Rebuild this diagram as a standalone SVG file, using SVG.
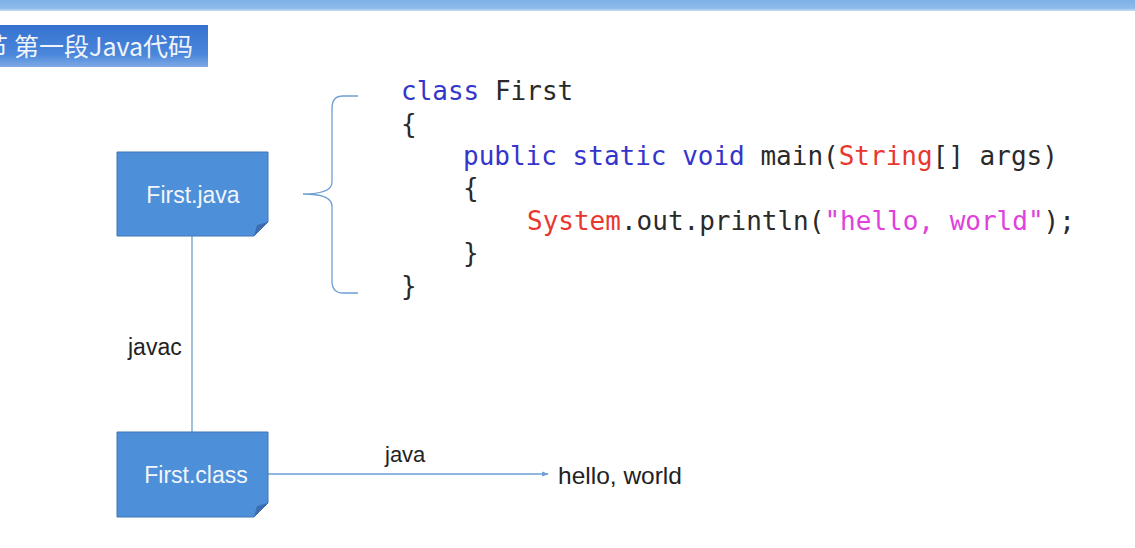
<svg xmlns="http://www.w3.org/2000/svg" width="1135" height="548" viewBox="0 0 1135 548">
<defs>
<linearGradient id="topbar" x1="0" y1="0" x2="0" y2="1">
<stop offset="0" stop-color="#7eb1e7"/>
<stop offset="0.75" stop-color="#8dbbea"/>
<stop offset="1" stop-color="#c9e0f6"/>
</linearGradient>
<linearGradient id="titlebg" x1="0" y1="0" x2="0" y2="1">
<stop offset="0" stop-color="#3572cf"/>
<stop offset="0.7" stop-color="#4a86da"/>
<stop offset="1" stop-color="#7fabe6"/>
</linearGradient>
<marker id="arr" viewBox="0 0 10 10" refX="9" refY="5" markerWidth="5" markerHeight="5" orient="auto">
<path d="M0,1 L10,5 L0,9 z" fill="#6e9fd4"/>
</marker>
</defs>
<style>
.node{fill:#4e8fd9;stroke:#3f74b6;stroke-width:1}
.fold{fill:#3b6db0}
.ntext{font-family:"Liberation Sans",Arial,sans-serif;font-size:23px;fill:#f2f6fb;text-anchor:middle}
.lbl{font-family:"Liberation Sans",Arial,sans-serif;fill:#222}
.conn{stroke:#6e9fd4;stroke-width:1.3;fill:none}
.code{font-family:"DejaVu Sans Mono","Liberation Mono",monospace;font-size:26px;fill:#2a2a2a}
.kw{fill:#3535cc}
.ty{fill:#e8372f}
.st{fill:#e040dc}
</style>
<rect width="1135" height="548" fill="#ffffff"/>
<rect x="0" y="0" width="1135" height="11" fill="url(#topbar)"/>
<g id="title">
<rect x="0" y="25" width="208" height="42" fill="url(#titlebg)"/>
<text x="-17" y="56" font-family="'Noto Sans CJK SC',sans-serif" font-size="25" fill="#f0f4fb">节</text>
<text x="14" y="56" font-family="'Noto Sans CJK SC',sans-serif" font-size="25" fill="#f0f4fb">第一段Java代码</text>
</g>
<g id="connectors">
<line class="conn" x1="192" y1="236" x2="192" y2="432"/>
<line class="conn" x1="268" y1="474" x2="548" y2="474" marker-end="url(#arr)"/>
<path class="conn" d="M358,96 L343,96 Q332,96 332,108 L332,182 Q332,194 303,194 Q332,194 332,206 L332,281 Q332,293 343,293 L358,293" stroke="#7aa6d6"/>
</g>
<g id="node-first-java">
<path class="node" d="M117,152 L268,152 L268,222 L254,236 L117,236 Z"/>
<path class="fold" d="M268,222 L254,236 L257,225 Z"/>
<text class="ntext" x="193" y="203">First.java</text>
</g>
<g id="node-first-class">
<path class="node" d="M117,432 L268,432 L268,503 L254,517 L117,517 Z"/>
<path class="fold" d="M268,503 L254,517 L257,506 Z"/>
<text class="ntext" x="196" y="483">First.class</text>
</g>
<g id="label-javac"><text class="lbl" x="128" y="355" style="font-size:23px">javac</text></g>
<g id="label-java"><text class="lbl" x="385" y="462" style="font-size:22px">java</text></g>
<g id="output"><text class="lbl" x="558" y="484" style="font-size:24.5px">hello, world</text></g>
<g id="code">
<text class="code" x="401" y="100"><tspan class="kw">class</tspan> First</text>
<text class="code" x="401" y="133">{</text>
<text class="code" x="463" y="165"><tspan class="kw">public static void</tspan> main(<tspan class="ty">String</tspan>[] args)</text>
<text class="code" x="463" y="197">{</text>
<text class="code" x="527" y="230"><tspan class="ty">System</tspan>.out.println(<tspan class="st">"hello, world"</tspan>);</text>
<text class="code" x="463" y="262">}</text>
<text class="code" x="401" y="295">}</text>
</g>
</svg>
